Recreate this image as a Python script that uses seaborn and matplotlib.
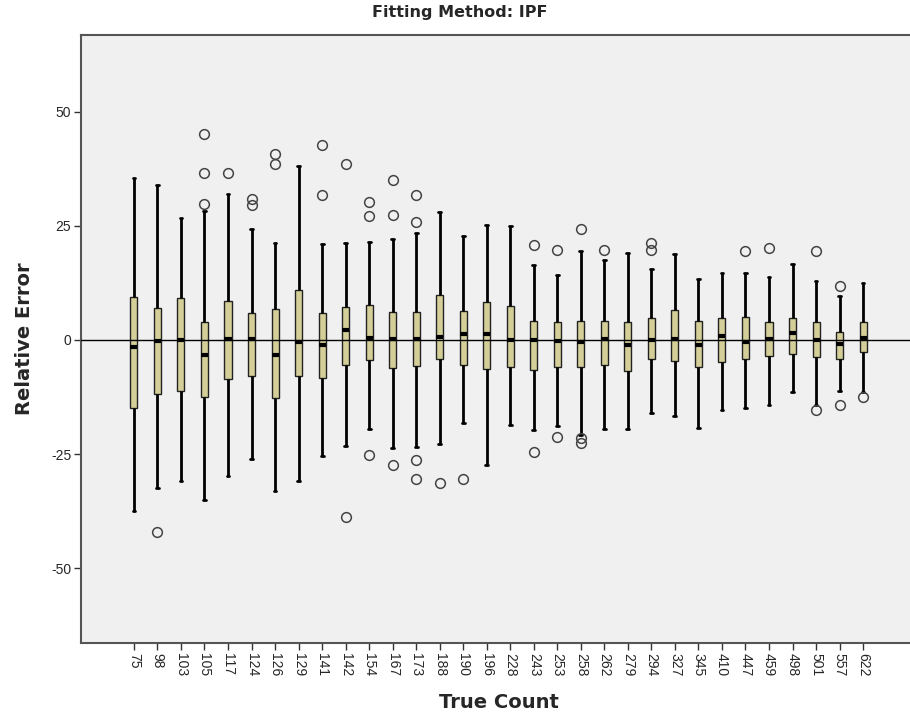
import pandas as pd
import seaborn as sns
import matplotlib.pyplot as plt

# summary values (relative error by true count)
cats = ["75", "98", "103", "105", "117", "124", "126", "129", "141", "142",
        "154", "167", "173", "188", "190", "196", "228", "243", "253", "258",
        "262", "279", "294", "327", "345", "410", "447", "459", "498", "501",
        "557", "622"]
q1 = [-15.0, -11.8, -11.2, -12.5, -8.5, -7.9, -12.8, -8.0, -8.3, -5.6,
      -4.5, -6.2, -5.8, -4.2, -5.6, -6.4, -6.0, -6.6, -5.9, -6.0,
      -5.5, -6.9, -4.2, -4.6, -5.9, -4.8, -4.2, -3.6, -3.0, -3.7,
      -4.2, -2.6]
med = [-1.6, -0.3, -0.1, -3.4, 0.1, 0.1, -3.4, -0.4, -1.2, 2.1,
       0.4, 0.3, 0.1, 0.7, 1.2, 1.2, -0.1, -0.1, -0.2, -0.4,
       0.1, -1.1, -0.1, 0.3, -1.2, 0.9, -0.4, 0.3, 1.5, 0.0,
       -1.0, 0.5]
q3 = [9.3, 6.9, 9.2, 4.0, 8.5, 5.8, 6.8, 10.9, 6.0, 7.2,
      7.6, 6.2, 6.1, 9.9, 6.3, 8.3, 7.5, 4.1, 3.9, 4.2,
      4.1, 4.0, 4.9, 6.6, 4.2, 4.7, 5.0, 3.9, 4.9, 3.9,
      1.8, 3.9]
w_lo = [-37.5, -32.5, -30.9, -35.0, -29.8, -26.1, -33.1, -31.0, -25.4, -23.3,
        -19.5, -23.7, -23.4, -22.9, -18.1, -27.4, -18.6, -19.7, -18.9, -20.9,
        -19.6, -19.6, -16.1, -16.6, -19.4, -15.4, -15.0, -14.2, -11.5, -14.2,
        -11.2, -11.5]
w_hi = [35.4, 33.9, 26.8, 28.3, 31.9, 24.3, 21.3, 38.1, 21.0, 21.3,
        21.5, 22.0, 23.4, 28.0, 22.7, 25.2, 25.0, 16.4, 14.2, 19.4,
        17.4, 19.0, 15.5, 18.8, 13.4, 14.7, 14.7, 13.7, 16.6, 12.8,
        9.6, 12.4]
outliers = [[], [-42.1], [], [29.8, 36.6, 45.2], [36.6], [29.5, 30.8],
            [38.5, 40.7], [], [31.8, 42.6], [38.6, -38.8],
            [27.2, 30.2, -25.3], [27.4, 35.0, -27.4],
            [25.8, 31.8, -26.2, -30.4], [-31.3], [-30.4], [], [],
            [20.7, -24.6], [19.6, -21.2], [24.2, -21.5, -22.5], [19.6], [],
            [19.6, 21.2], [], [], [], [19.4], [20.1], [], [19.5, -15.4],
            [11.8, -14.3], [-12.6]]

# rebuild a sample per group whose quartiles / whiskers match the summary
k = 40
rows = []
for c, a, m, b, lo, hi, out in zip(cats, q1, med, q3, w_lo, w_hi, outliers):
    vals = out + [lo, hi] + [a] * k + [m] * k + [b] * k
    rows += [(c, v) for v in vals]
df = pd.DataFrame(rows, columns=["count", "err"])

sns.set_style("white")
plt.rcParams["font.family"] = ["Liberation Sans", "DejaVu Sans"]
plt.rcParams["axes.unicode_minus"] = False

fig = plt.figure(figsize=(9.1, 7.19), dpi=100)
ax = fig.add_axes([81 / 910, 1 - 643 / 719, 835 / 910, 608 / 719])
ax.set_facecolor("#F0F0F0")

sns.boxplot(data=df, x="count", y="err", order=cats, width=0.3,
            color="#D4CF98", saturation=1, linecolor="#222222", linewidth=1,
            fliersize=7,
            flierprops=dict(marker="o", markerfacecolor="none",
                            markeredgecolor="#444444", markeredgewidth=1.1),
            medianprops=dict(color="black", linewidth=3),
            whiskerprops=dict(color="black", linewidth=2),
            capprops=dict(color="black", linewidth=2),
            capwidths=0.12, ax=ax)
ax.axhline(0, color="black", lw=1, zorder=5)

ax.set_xlim(-2.25, 33.25)
ax.set_ylim(-66.4, 66.8)
ax.set_yticks([-50, -25, 0, 25, 50])
for s in ax.spines.values():
    s.set_color("#555555")
    s.set_linewidth(1.5)
ax.tick_params(axis="both", bottom=True, left=True, direction="out",
               length=5, width=1, color="#333333", labelsize=10, pad=2)
ax.tick_params(axis="x", labelrotation=-90)

bold = dict(fontsize=14, fontweight="bold", family="DejaVu Sans")
ax.set_xlabel("True Count", labelpad=12, **bold)
ax.set_ylabel("Relative Error", labelpad=12, **bold)
fig.text(460 / 910, 1 - 12 / 719, "Fitting Method: IPF", ha="center",
         va="center", fontsize=11.5, fontweight="bold", family="DejaVu Sans")

fig.savefig("out.png", dpi=100)
